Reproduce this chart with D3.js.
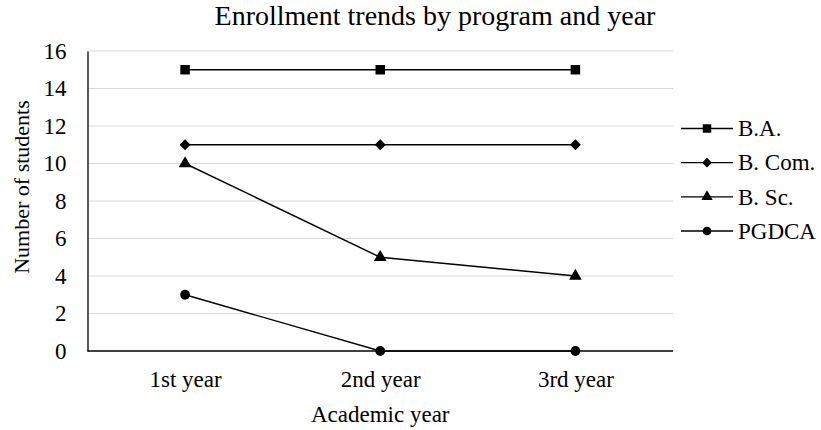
<!DOCTYPE html>
<html>
<head>
<meta charset="utf-8">
<script src="https://cdn.jsdelivr.net/npm/d3@7"></script>
<style>
  html, body { margin: 0; padding: 0; background: #fff; }
  svg text { font-family: "Liberation Serif", "Times New Roman", serif; fill: #000; }
</style>
</head>
<body>
<svg id="chart" width="821" height="430"></svg>
<script>
// Academic years on the x axis
const years = ["1st year", "2nd year", "3rd year"];
// Program names (legend order)
const programs = ["B.A.", "B. Com.", "B. Sc.", "PGDCA"];
// Student counts per program, one value per year
const baValues = [15, 15, 15];
const bcomValues = [11, 11, 11];
const bscValues = [10, 5, 4];
const pgdcaValues = [3, 0, 0];
// Y axis ticks
const yTicks = [0, 2, 4, 6, 8, 10, 12, 14, 16];

// Square-proportioned diamond (a square turned 45 degrees)
const symbolRhomb = {
  draw(context, size) {
    const r = Math.sqrt(size / 2);
    context.moveTo(0, -r);
    context.lineTo(r, 0);
    context.lineTo(0, r);
    context.lineTo(-r, 0);
    context.closePath();
  }
};
const markerTypes = [d3.symbolSquare, symbolRhomb, d3.symbolTriangle, d3.symbolCircle];

const series = [baValues, bcomValues, bscValues, pgdcaValues].map((vals, i) => ({
  name: programs[i],
  symbol: markerTypes[i],
  values: vals.map((v, j) => ({ year: years[j], value: v }))
}));

const svg = d3.select("#chart");
const plot = { left: 87.5, right: 673, top: 51, bottom: 351 };

const x = d3.scalePoint().domain(years).range([plot.left, plot.right]).padding(0.5);
const y = d3.scaleLinear().domain([0, 16]).range([plot.bottom, plot.top]);

// Horizontal gridlines
svg.append("g")
  .selectAll("line")
  .data(yTicks.filter(t => t > 0))
  .join("line")
  .attr("x1", plot.left).attr("x2", plot.right)
  .attr("y1", d => y(d)).attr("y2", d => y(d))
  .attr("stroke", "#d9d9d9").attr("stroke-width", 1.2);

// Y axis
const yAxis = svg.append("g")
  .attr("transform", `translate(${plot.left},0)`)
  .call(d3.axisLeft(y).tickValues(yTicks).tickSize(0).tickPadding(21).tickFormat(d3.format("d")));
yAxis.attr("font-family", null);
yAxis.select(".domain").attr("stroke", "#000").attr("stroke-width", 1.3);
yAxis.selectAll("text").attr("font-size", 23);

// X axis
const xAxis = svg.append("g")
  .attr("transform", `translate(0,${plot.bottom})`)
  .call(d3.axisBottom(x).tickSize(0).tickPadding(20));
xAxis.attr("font-family", null);
xAxis.select(".domain").attr("stroke", "#000").attr("stroke-width", 1.3)
  .attr("d", `M${plot.left},0H${plot.right}`);
xAxis.selectAll("text").attr("font-size", 23);

// Series lines
const line = d3.line().x(d => x(d.year)).y(d => y(d.value));
svg.append("g")
  .selectAll("path")
  .data(series)
  .join("path")
  .attr("d", d => line(d.values))
  .attr("fill", "none")
  .attr("stroke", "#000")
  .attr("stroke-width", 1.4);

// Markers
const markerSize = { "B.A.": 90, "B. Com.": 60, "B. Sc.": 70, "PGDCA": 75 };
series.forEach(s => {
  svg.append("g")
    .selectAll("path")
    .data(s.values)
    .join("path")
    .attr("transform", d => `translate(${x(d.year)},${y(d.value)})`)
    .attr("d", d3.symbol().type(s.symbol).size(markerSize[s.name]))
    .attr("fill", "#000");
});

// Title
svg.append("text")
  .attr("x", 435).attr("y", 25)
  .attr("text-anchor", "middle")
  .attr("font-size", 28)
  .text("Enrollment trends by program and year");

// Axis titles
svg.append("text")
  .attr("x", (plot.left + plot.right) / 2).attr("y", 422)
  .attr("text-anchor", "middle")
  .attr("font-size", 23)
  .text("Academic year");

svg.append("text")
  .attr("transform", "translate(29,187) rotate(-90)")
  .attr("text-anchor", "middle")
  .attr("font-size", 22)
  .text("Number of students");

// Legend
const legend = svg.append("g").attr("transform", "translate(681,0)");
const legendY = d3.scalePoint().domain(programs).range([128.5, 231]);
const entries = legend.selectAll("g")
  .data(series)
  .join("g")
  .attr("transform", d => `translate(0,${legendY(d.name)})`);
entries.append("line")
  .attr("x1", 0).attr("x2", 52)
  .attr("stroke", "#000").attr("stroke-width", 1.4);
entries.append("path")
  .attr("transform", "translate(26,0)")
  .attr("d", d => d3.symbol().type(d.symbol).size(markerSize[d.name] * 0.8)())
  .attr("fill", "#000");
entries.append("text")
  .attr("x", 57).attr("dy", "0.34em")
  .attr("font-size", 23)
  .text(d => d.name);
</script>
</body>
</html>
